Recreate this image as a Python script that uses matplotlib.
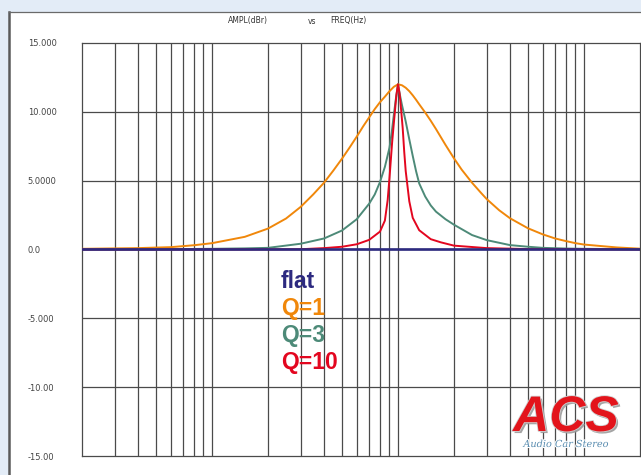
import matplotlib
matplotlib.use("Agg")
import matplotlib.pyplot as plt
import matplotlib.patheffects as pe
from matplotlib.patches import Rectangle
from matplotlib.lines import Line2D

W, H = 641, 475

# ---- data (frequency in Hz, amplitude in dBr) ----
freq_q1 = [20, 30, 40, 50, 60, 80, 100, 150, 200, 250, 300, 350, 400, 450, 500,
           550, 600, 650, 700, 750, 800, 850, 900, 950, 1000, 1050, 1100, 1150,
           1200, 1250, 1300, 1400, 1500, 1600, 1800, 2000, 2200, 2500, 2800, 3000,
           3500, 4000, 5000, 6000, 7000, 8000, 9000, 10000, 15000, 20000]
amp_q1 = [0.05, 0.08, 0.10, 0.14, 0.17, 0.31, 0.46, 0.92, 1.52, 2.25, 3.10, 4.00,
          4.85, 5.75, 6.60, 7.42, 8.20, 8.95, 9.60, 10.20, 10.70, 11.10, 11.50,
          11.82, 12.0, 11.93, 11.75, 11.50, 11.20, 10.88, 10.55, 9.95, 9.35, 8.75,
          7.60, 6.62, 5.80, 4.85, 4.10, 3.66, 2.85, 2.27, 1.54, 1.10, 0.80, 0.61,
          0.46, 0.36, 0.15, 0.06]

freq_q3 = [20, 50, 100, 150, 200, 300, 400, 500, 600, 700, 750, 800, 850, 900,
           925, 950, 975, 1000, 1025, 1050, 1075, 1100, 1150, 1200, 1250, 1300,
           1400, 1500, 1600, 1800, 2000, 2500, 3000, 4000, 5000, 6000, 8000, 10000,
           20000]
amp_q3 = [0.01, 0.02, 0.05, 0.08, 0.12, 0.42, 0.80, 1.38, 2.20, 3.33, 4.00, 4.90,
          6.00, 7.40, 8.50, 9.80, 11.0, 12.0, 11.2, 10.5, 9.90, 9.30, 8.00, 6.80,
          5.70, 4.80, 3.85, 3.20, 2.75, 2.20, 1.80, 1.05, 0.68, 0.32, 0.20, 0.12,
          0.07, 0.05, 0.02]

freq_q10 = [20, 100, 300, 400, 500, 600, 700, 800, 850, 880, 900, 930, 950, 980,
            1000, 1020, 1040, 1060, 1080, 1100, 1150, 1200, 1300, 1500, 1700, 2000,
            3000, 5000, 20000]
amp_q10 = [0.0, 0.0, 0.02, 0.10, 0.20, 0.38, 0.70, 1.30, 2.10, 3.60, 5.20, 7.80,
           9.20, 11.2, 12.0, 11.3, 10.1, 8.8, 7.1, 5.7, 3.5, 2.3, 1.4, 0.75, 0.52,
           0.28, 0.10, 0.03, 0.0]

freq_flat = [20, 20000]
amp_flat = [0.0, 0.0]

vgrid = [30, 40, 50, 60, 70, 80, 90, 100, 200, 300, 400, 500, 600, 700, 800, 900,
         1000, 2000, 3000, 4000, 5000, 6000, 7000, 8000, 9000, 10000]
yticks = [15, 10, 5, 0, -5, -10, -15]
ylabels = ["15.000", "10.000", "5.0000", "0.0", "-5.000", "-10.00", "-15.00"]
legend_names = ["flat", "Q=1", "Q=3", "Q=10"]

C_FLAT, C_Q1, C_Q3, C_Q10 = "#2d2a80", "#f0870a", "#4d8a78", "#e3061f"
GRID = "#4a4a4a"


def px(x, y):
    """pixel coords (top-left origin) -> figure fraction"""
    return x / W, 1 - y / H


fig = plt.figure(figsize=(W / 100, H / 100), dpi=100, facecolor="#e3ecf7")

# white panel with dark left / top border (behind the axes)
fig.patches.append(Rectangle((9 / W, -0.01), 1.0, 1 - 12 / H + 0.01,
                             transform=fig.transFigure, facecolor="white",
                             edgecolor="none", zorder=-10))
fig.add_artist(Line2D([9 / W, 9 / W], [0, 1 - 12 / H], color="#5a5a5a", lw=1.8,
                      zorder=-5))
fig.add_artist(Line2D([9 / W, 1], [1 - 12 / H, 1 - 12 / H], color="#6a6a6a", lw=0.9,
                      zorder=-5))

ax = fig.add_axes([82 / W, 1 - 456 / H, (640 - 82) / W, (456 - 43) / H])
ax.set_facecolor("white")
ax.set_xscale("log")
ax.set_xlim(20, 20000)
ax.set_ylim(-15, 15)

for f in vgrid:
    ax.axvline(f, color=GRID, lw=0.9, zorder=1)
for yv in [-10, -5, 0, 5, 10]:
    ax.axhline(yv, color=GRID, lw=0.9, zorder=1)
for s in ax.spines.values():
    s.set_color(GRID)
    s.set_linewidth(0.9)

ax.set_xticks([])
ax.set_xticks([], minor=True)
ax.set_yticks(yticks, ylabels)
ax.tick_params(axis="y", length=0, pad=39, labelsize=6, labelcolor="#444444")
for tl in ax.get_yticklabels():
    tl.set_ha("left")
    tl.set_fontfamily("DejaVu Sans")

ax.plot(freq_q1, amp_q1, color=C_Q1, lw=1.4, zorder=3)
ax.plot(freq_q3, amp_q3, color=C_Q3, lw=1.4, zorder=3)
ax.plot(freq_q10, amp_q10, color=C_Q10, lw=1.4, zorder=3)
ax.plot(freq_flat, amp_flat, color=C_FLAT, lw=1.9, zorder=4)

# header
fig.text(*px(228, 21), "AMPL(dBr)", fontsize=5.5, color="#333333", va="center")
fig.text(*px(308, 21), "vs", fontsize=5.5, color="#333333", va="center")
fig.text(*px(330, 21), "FREQ(Hz)", fontsize=5.5, color="#333333", va="center")

# legend labels
for name, col, base in zip(legend_names, [C_FLAT, C_Q1, C_Q3, C_Q10],
                           [288, 315, 342, 369]):
    fig.text(*px(281, base), name, fontsize=16.5, fontweight="bold",
             family="Liberation Sans", color=col, va="baseline", zorder=5)

# ACS logo
fig.text(*px(566, 431), "ACS", fontsize=36, fontweight="bold", fontstyle="italic",
         family="Liberation Sans", color="#e3141b", ha="center", va="baseline",
         zorder=6,
         path_effects=[pe.SimplePatchShadow(offset=(1.5, -1.5), shadow_rgbFace="#9a9a9a",
                                            alpha=0.9),
                       pe.withStroke(linewidth=1.2, foreground="#d0d0d0")])
fig.text(*px(566, 447), "Audio Car Stereo", fontsize=7, fontstyle="italic",
         family="DejaVu Serif", color="#5a8db0", ha="center", va="baseline",
         zorder=6, path_effects=[pe.withStroke(linewidth=1.5, foreground="white")])

fig.savefig("out.png", dpi=100, facecolor=fig.get_facecolor())
